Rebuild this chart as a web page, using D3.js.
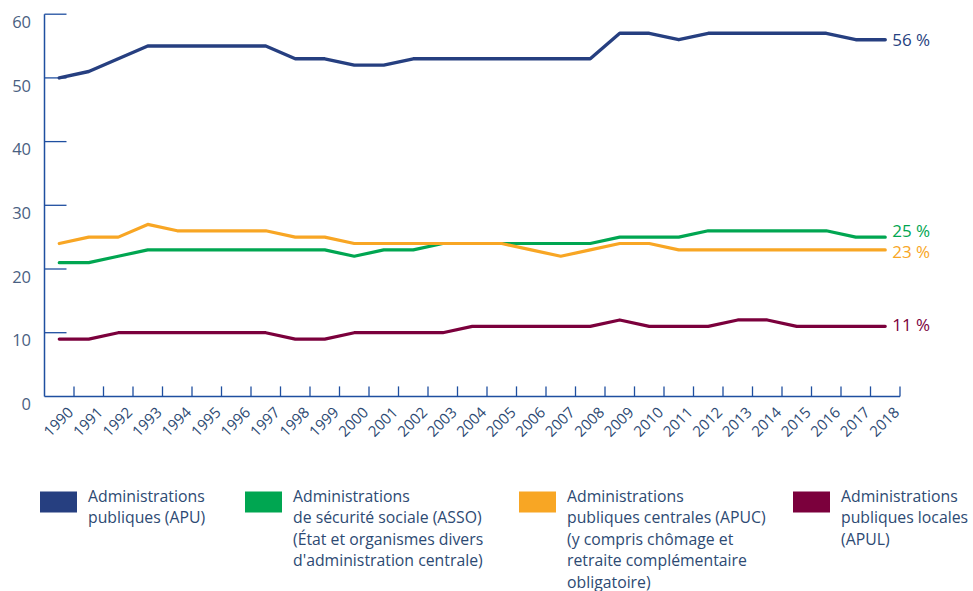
<!DOCTYPE html>
<html><head><meta charset="utf-8">
<script src="https://cdn.jsdelivr.net/npm/d3@7"></script>
<style>
html,body{margin:0;padding:0;background:#fff;}
svg{display:block;font-family:"Open Sans","Noto Sans",sans-serif;}
</style></head>
<body><svg id="c" width="973" height="591"></svg>
<script>
const years = d3.range(1990, 2019).map(String);
const apu  = [50,51,53,55,55,55,55,55,53,53,52,52,53,53,53,53,53,53,53,57,57,56,57,57,57,57,57,56,56];
const asso = [21,21,22,23,23,23,23,23,23,23,22,23,23,24,24,24,24,24,24,25,25,25,26,26,26,26,26,25,25];
const apuc = [24,25,25,27,26,26,26,26,25,25,24,24,24,24,24,24,23,22,23,24,24,23,23,23,23,23,23,23,23];
const apul = [9,9,10,10,10,10,10,10,9,9,10,10,10,10,11,11,11,11,11,12,11,11,11,12,12,11,11,11,11];
const yTicks = [0,10,20,30,40,50,60];
const seriesNames = ["APU","ASSO","APUC","APUL"];
const endLabels = ["56 %","25 %","23 %","11 %"];
const legendLabels = [
  ["Administrations","publiques (APU)"],
  ["Administrations","de sécurité sociale (ASSO)","(État et organismes divers","d'administration centrale)"],
  ["Administrations","publiques centrales (APUC)","(y compris chômage et","retraite complémentaire","obligatoire)"],
  ["Administrations","publiques locales","(APUL)"]
];
const colors = ["#263f80","#00a651","#f8a624","#7b003c"];
const seriesData = [apu, asso, apuc, apul];

const svg = d3.select("#c");
const x0 = 44.5, x1 = 900, yTop = 14.2, yBot = 396.4;
const x = d3.scaleBand().domain(years).range([x0, x1]).padding(0);
const y = d3.scaleLinear().domain([0,60]).range([yBot, yTop]);
const axisCol = "#1f4fa0";

// Y axis
const ya = svg.append("g");
ya.append("line").attr("x1",x0).attr("x2",x0).attr("y1",yTop).attr("y2",yBot)
  .attr("stroke",axisCol).attr("stroke-width",1.5);
ya.selectAll("line.t").data(yTicks.filter(d=>d>0)).join("line").attr("class","t")
  .attr("x1",x0).attr("x2",x0+22).attr("y1",d=>y(d)).attr("y2",d=>y(d))
  .attr("stroke",axisCol).attr("stroke-width",1.3);
ya.selectAll("text").data(yTicks).join("text")
  .attr("x",31).attr("y",d=>y(d)+8).attr("dy","0.35em").attr("text-anchor","end")
  .attr("font-size",16.5).attr("fill","#4a5f82").text(d=>d);

// X axis
const xa = svg.append("g");
xa.append("line").attr("x1",x0).attr("x2",x1).attr("y1",yBot).attr("y2",yBot)
  .attr("stroke",axisCol).attr("stroke-width",1.5);
xa.selectAll("line.t").data(years).join("line").attr("class","t")
  .attr("x1",d=>x(d)+x.bandwidth()).attr("x2",d=>x(d)+x.bandwidth())
  .attr("y1",yBot).attr("y2",yBot-10)
  .attr("stroke",axisCol).attr("stroke-width",1.3);
xa.selectAll("text").data(years).join("text")
  .attr("transform",d=>`translate(${x(d)+x.bandwidth()/2+15},${yBot+17}) rotate(-45)`)
  .attr("text-anchor","end")
  .attr("font-size",15).attr("fill","#2d4a73").text(d=>d);

// Lines
const line = d3.line().x((d,i)=>x(years[i])+x.bandwidth()/2).y(d=>y(d));
seriesData.forEach((s,k)=>{
  svg.append("path").datum(s).attr("d",line).attr("fill","none")
    .attr("stroke",colors[k]).attr("stroke-width",k===0?3.4:3.2)
    .attr("stroke-linejoin","round").attr("stroke-linecap","round");
});

// End labels
const lastX = x(years[years.length-1]) + x.bandwidth()/2;
const labelOffsets = [0,-6.5,2,-1];
seriesData.forEach((s,k)=>{
  svg.append("text").attr("x",lastX+7).attr("y",y(s[s.length-1])+labelOffsets[k]).attr("dy","0.35em")
    .attr("font-size",17).attr("fill",colors[k]).text(endLabels[k]);
});

// Legend
const legX = [40,245,519,793];
const lg = svg.append("g");
legendLabels.forEach((lines,k)=>{
  lg.append("rect").attr("x",legX[k]).attr("y",491.5).attr("width",37).attr("height",21)
    .attr("fill",colors[k]);
  const t = lg.append("text").attr("x",legX[k]+48).attr("y",501.5)
    .attr("font-size",15.8).attr("fill","#2d4a73");
  lines.forEach((l,i)=>{
    t.append("tspan").attr("x",legX[k]+48).attr("y",501.5+i*21.5).text(l);
  });
});
</script></body></html>
